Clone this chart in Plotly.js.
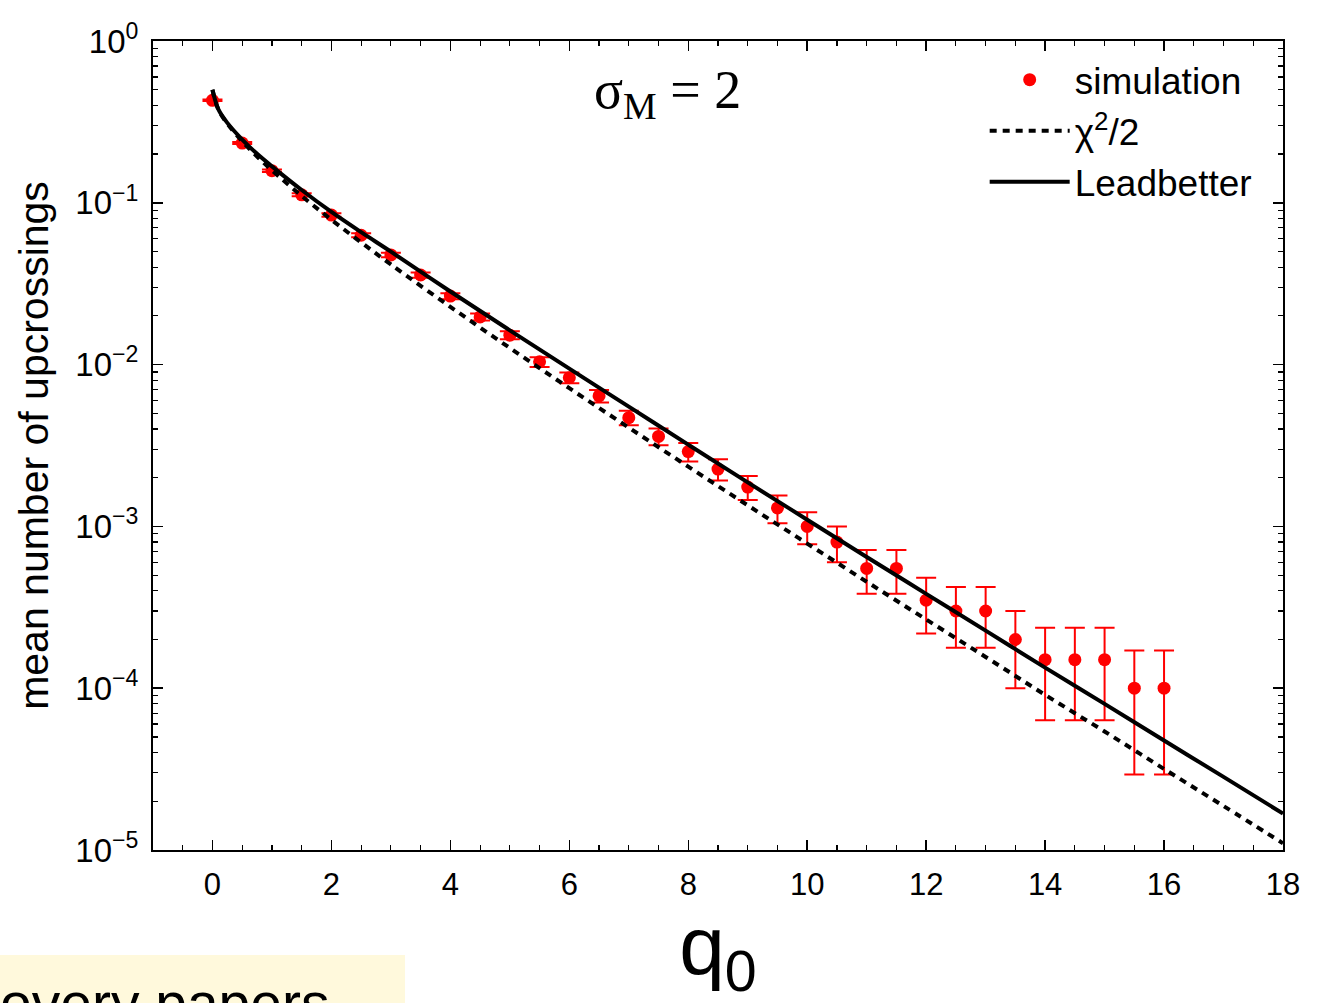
<!DOCTYPE html>
<html>
<head>
<meta charset="utf-8">
<script src="https://cdn.plot.ly/plotly-3.0.1.min.js"></script>
<style>
html,body{margin:0;padding:0;background:#ffffff;}
#chart{width:1339px;height:1003px;}
</style>
</head>
<body>
<div id="chart"></div>
<script>
// ---- data ----
const simQ = [0,0.5,1,1.5,2,2.5,3,3.5,4,4.5,5,5.5,6,6.5,7,7.5,8,8.5,9,9.5,10,10.5,11,11.5,12,12.5,13,13.5,14,14.5,15,15.5,16];
const simVal = [0.43,0.234,0.158,0.112,0.084,0.063,0.0476,0.0358,0.0265,0.0197,0.0152,0.0104,0.0083,0.0064,0.0047,0.0036,0.0029,0.00226,0.00175,0.0013,0.001,0.0008,0.00055,0.00055,0.00035,0.0003,0.0003,0.0002,0.00015,0.00015,0.00015,0.0001,0.0001];
const simErr = [0.00464,0.00342,0.00281,0.00237,0.00205,0.00177,0.00154,0.00134,0.00115,0.000992,0.000872,0.000721,0.000644,0.000566,0.000485,0.000424,0.000381,0.000336,0.000296,0.000255,0.000224,0.0002,0.000166,0.000166,0.000132,0.000122,0.000122,0.0001,0.0000866,0.0000866,0.0000866,0.0000707,0.0000707];

const curveQ = [0,0.1,0.25,0.5,0.75,1,1.5,2,2.5,3,4,5,6,7,8,9,10,11,12,13,14,15,16,17,18];
const chi2Half = [0.5,0.376,0.3085,0.2398,0.1932,0.1587,0.1103,0.0786,0.0569,0.0416,0.02275,0.01267,0.00715,0.00408,0.00234,0.00135,0.000783,0.000455,0.000266,0.000156,0.000091,0.000054,0.0000317,0.0000187,0.000011];
const leadbetter = [0.5,0.378,0.312,0.246,0.2007,0.168,0.120,0.0878,0.0658,0.0499,0.0283,0.01628,0.00944,0.0055,0.0032,0.00187,0.0011,0.000647,0.000383,0.000227,0.000134,0.00008,0.0000475,0.0000283,0.0000168];

const seriesNames = ['simulation','\u03c7<sup>2</sup>/2','Leadbetter'];
const yTickVals = [1e-5,1e-4,1e-3,1e-2,1e-1,1];
const yTickText = ['10<sup>\u22125</sup>','10<sup>\u22124</sup>','10<sup>\u22123</sup>','10<sup>\u22122</sup>','10<sup>\u22121</sup>','10<sup>0</sup>'];
const xTickVals = [0,2,4,6,8,10,12,14,16,18];
const xTickText = ['0','2','4','6','8','10','12','14','16','18'];

const SANS = 'Liberation Sans, Arial, Helvetica, sans-serif';
const SERIF = 'Liberation Serif, Times New Roman, serif';

const traces = [
  {
    x: simQ, y: simVal, type: 'scatter', mode: 'markers', name: seriesNames[0],
    marker: {color: '#ff0000', size: 13},
    error_y: {type: 'data', array: simErr, visible: true, color: '#ff0000', thickness: 2, width: 10}
  },
  {
    x: curveQ, y: chi2Half, type: 'scatter', mode: 'lines', name: seriesNames[1],
    line: {color: '#000000', width: 4, dash: '7px,6px', shape: 'spline'}
  },
  {
    x: curveQ, y: leadbetter, type: 'scatter', mode: 'lines', name: seriesNames[2],
    line: {color: '#000000', width: 4, shape: 'spline'}
  }
];

const layout = {
  width: 1339, height: 1003,
  paper_bgcolor: '#ffffff', plot_bgcolor: '#ffffff',
  margin: {l: 153, r: 56, t: 41, b: 153},
  font: {family: SANS, color: '#000000'},
  showlegend: true,
  legend: {
    x: 0.736, y: 0.99, xanchor: 'left', yanchor: 'top',
    bgcolor: 'rgba(0,0,0,0)', borderwidth: 0,
    font: {size: 37, family: SANS, color: '#000000'},
    itemwidth: 80, tracegroupgap: 0
  },
  xaxis: {
    type: 'linear', range: [-1, 18],
    tickvals: xTickVals, ticktext: xTickText,
    ticks: 'inside', ticklen: 10, tickwidth: 1.5, tickcolor: '#000000',
    showline: true, linecolor: '#000000', linewidth: 2, mirror: 'allticks',
    showgrid: false, zeroline: false,
    tickfont: {size: 31, family: SANS},
    ticklabelstandoff: 6,
    minor: {dtick: 0.5, tick0: 0, ticks: 'inside', ticklen: 5, tickwidth: 1.2, tickcolor: '#000000', showgrid: false},
    title: {text: 'q<sub>0</sub>', font: {size: 82, family: SANS}, standoff: 38},
    automargin: false
  },
  yaxis: {
    type: 'log', range: [-5, 0],
    tickvals: yTickVals, ticktext: yTickText,
    ticks: 'inside', ticklen: 10, tickwidth: 1.5, tickcolor: '#000000',
    showline: true, linecolor: '#000000', linewidth: 2, mirror: 'allticks',
    showgrid: false, zeroline: false,
    tickfont: {size: 33, family: SANS},
    ticklabelstandoff: 6,
    minor: {dtick: 'D1', ticks: 'inside', ticklen: 5, tickwidth: 1.2, tickcolor: '#000000', showgrid: false},
    title: {text: 'mean number of upcrossings', font: {size: 41, family: SANS}, standoff: 14},
    automargin: false
  },
  shapes: [
    {type: 'rect', xref: 'paper', yref: 'paper', x0: -0.136, x1: 0.2230, y0: -0.1298, y1: -0.20,
     fillcolor: '#fff9dc', line: {width: 0}, layer: 'below'}
  ],
  annotations: [
    {text: '\u03c3<sub>M</sub> = 2', xref: 'paper', yref: 'paper', x: 0.455, y: 0.935,
     xanchor: 'center', yanchor: 'middle', showarrow: false,
     font: {family: SERIF, size: 54, color: '#000000'}},
    {text: 'overy papers', xref: 'paper', yref: 'paper', x: -0.137, y: -0.147,
     xanchor: 'left', yanchor: 'top', showarrow: false,
     font: {family: SANS, size: 57, color: '#000000'}}
  ]
};

Plotly.newPlot('chart', traces, layout, {displayModeBar: false, staticPlot: true});
</script>
</body>
</html>
